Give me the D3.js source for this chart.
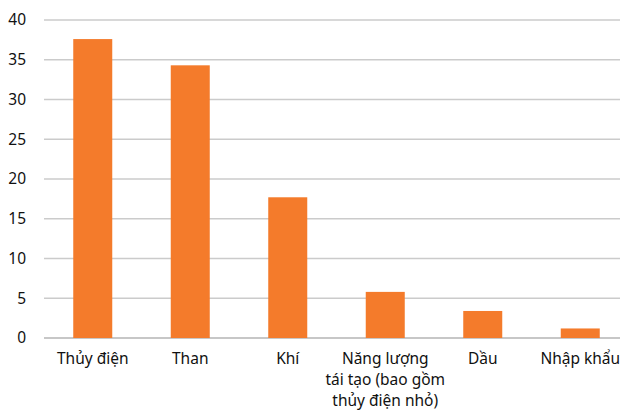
<!DOCTYPE html>
<html>
<head>
<meta charset="utf-8">
<script src="https://cdn.jsdelivr.net/npm/d3@7"></script>
<style>
    body { margin: 0; background: #fff; }
    svg text { font-family: "Noto Sans", sans-serif; fill: #111; }
</style>
</head>
<body>
<svg id="chart" width="620" height="412"></svg>
<script>
// Data
const categories = ['Thủy điện', 'Than', 'Khí', 'Năng lượng tái tạo', 'Dầu', 'Nhập khẩu'];
const labelLines = [
    ['Thủy điện'],
    ['Than'],
    ['Khí'],
    ['Năng lượng', 'tái tạo (bao gồm', 'thủy điện nhỏ)'],
    ['Dầu'],
    ['Nhập khẩu']
];
const values = [37.6, 34.3, 17.7, 5.8, 3.4, 1.2];
const yTicks = [0, 5, 10, 15, 20, 25, 30, 35, 40];

const svg = d3.select('#chart');
const margin = { top: 20, right: -9, bottom: 74, left: 44 };
const width = 620 - margin.left - margin.right;
const height = 412 - margin.top - margin.bottom;

const g = svg.append('g')
    .attr('transform', `translate(${margin.left},${margin.top})`);

const x = d3.scaleBand()
    .domain(categories)
    .range([0, width])
    .paddingInner(0.6)
    .paddingOuter(0.3);

const y = d3.scaleLinear()
    .domain([0, 40])
    .range([height, 0]);

// gridlines
g.selectAll('.grid')
    .data(yTicks)
    .enter()
    .append('line')
    .attr('x1', 0)
    .attr('x2', width)
    .attr('y1', d => y(d))
    .attr('y2', d => y(d))
    .attr('stroke', d => d === 0 ? '#b5b5b5' : '#cbcbcb')
    .attr('stroke-width', 1.3);

// y axis labels
const yAxis = g.append('g')
    .call(d3.axisLeft(y).tickValues(yTicks).tickSize(0).tickPadding(18));
yAxis.select('.domain').remove();
yAxis.selectAll('text')
    .style('font-size', '15.5px')
    .style('font-family', '"Noto Sans", sans-serif')
    .attr('fill', '#111');

// bars
g.selectAll('rect')
    .data(values)
    .enter()
    .append('rect')
    .attr('x', (d, i) => x(categories[i]))
    .attr('y', d => y(d))
    .attr('width', x.bandwidth())
    .attr('height', d => y(0) - y(d))
    .attr('fill', '#f47b2b');

// category labels
const labels = g.selectAll('.cat')
    .data(categories)
    .enter()
    .append('text')
    .attr('class', 'cat')
    .attr('text-anchor', 'middle')
    .attr('x', d => x(d) + x.bandwidth() / 2)
    .attr('y', height + 26)
    .style('font-size', '15.5px');

labels.each(function(d, i) {
    d3.select(this).selectAll('tspan')
        .data(labelLines[i])
        .enter()
        .append('tspan')
        .attr('x', x(d) + x.bandwidth() / 2)
        .attr('dy', (t, j) => j === 0 ? 0 : 21)
        .text(t => t);
});
</script>
</body>
</html>
